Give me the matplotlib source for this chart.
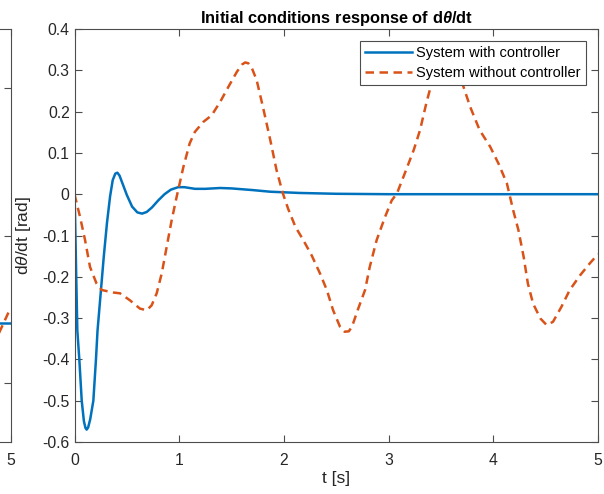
import matplotlib
matplotlib.use("Agg")
import matplotlib.pyplot as plt

plt.rcParams['font.family'] = ['Liberation Sans', 'DejaVu Sans']
plt.rcParams['mathtext.fontset'] = 'custom'
plt.rcParams['mathtext.rm'] = 'Liberation Sans'
plt.rcParams['mathtext.it'] = 'Liberation Sans:italic'
plt.rcParams['mathtext.bf'] = 'Liberation Sans:bold'
plt.rcParams['mathtext.bfit'] = 'Liberation Sans:italic:bold'

# angular rate, closed loop
t_ctrl = [0, 0.005, 0.015, 0.027, 0.046, 0.069, 0.09, 0.105, 0.116, 0.13,
          0.15, 0.18, 0.205, 0.22, 0.25, 0.28, 0.31, 0.34, 0.365, 0.39, 0.41,
          0.43, 0.46, 0.5, 0.55, 0.6, 0.645, 0.69, 0.74, 0.8, 0.86, 0.92,
          0.99, 1.05, 1.15, 1.25, 1.39, 1.5, 1.7, 1.87, 2.15, 2.5, 3.0, 3.5,
          4.0, 5.0]
w_ctrl = [0, -0.05, -0.18, -0.33, -0.4, -0.5, -0.55, -0.566, -0.57, -0.565,
          -0.545, -0.5, -0.4, -0.33, -0.24, -0.15, -0.07, -0.005, 0.034, 0.05,
          0.052, 0.045, 0.025, -0.002, -0.03, -0.044, -0.047, -0.043, -0.032,
          -0.015, 0.0, 0.011, 0.017, 0.017, 0.013, 0.013, 0.015, 0.014, 0.010,
          0.006, 0.003, 0.001, 0.0, 0.0, 0.0, 0.0]

# angular rate, open loop
t_open = [0, 0.053, 0.10, 0.148, 0.21, 0.26, 0.37, 0.435, 0.53, 0.625, 0.69,
          0.737, 0.785, 0.833, 0.88, 0.928, 0.976, 1.04, 1.10, 1.15, 1.23,
          1.31, 1.39, 1.47, 1.55, 1.60, 1.63, 1.66, 1.69, 1.74, 1.80, 1.87,
          1.93, 1.99, 2.04, 2.11, 2.185, 2.265, 2.345, 2.41, 2.47, 2.536,
          2.58, 2.62, 2.65, 2.71, 2.775, 2.82, 2.886, 2.966, 3.03, 3.08, 3.16,
          3.24, 3.30, 3.36, 3.41, 3.48, 3.55, 3.63, 3.71, 3.78, 3.87, 3.97,
          4.05, 4.13, 4.19, 4.24, 4.29, 4.33, 4.38, 4.45, 4.51, 4.57, 4.65,
          4.73, 4.83, 4.92, 5.0]
w_open = [0, -0.055, -0.11, -0.176, -0.216, -0.232, -0.238, -0.24, -0.257,
          -0.277, -0.281, -0.269, -0.24, -0.192, -0.128, -0.063, -0.006,
          0.066, 0.123, 0.151, 0.175, 0.191, 0.223, 0.26, 0.296, 0.314, 0.319,
          0.317, 0.308, 0.276, 0.211, 0.131, 0.058, 0.002, -0.035, -0.079,
          -0.111, -0.148, -0.192, -0.232, -0.281, -0.321, -0.333, -0.332,
          -0.321, -0.277, -0.232, -0.176, -0.111, -0.055, -0.015, 0.002,
          0.054, 0.107, 0.155, 0.22, 0.268, 0.31, 0.325, 0.305, 0.264, 0.211,
          0.155, 0.115, 0.074, 0.026, -0.039, -0.087, -0.152, -0.216, -0.265,
          -0.301, -0.317, -0.309, -0.273, -0.232, -0.196, -0.168, -0.145]

# tail of the neighbouring angle plot
t_prev = [4.8, 5.0]
th_prev_ctrl = [-0.297, -0.297]
th_prev_open = [-0.40, -0.246]

x_ticks = [0, 1, 2, 3, 4, 5]
y_ticks = [-0.6, -0.5, -0.4, -0.3, -0.2, -0.1, 0, 0.1, 0.2, 0.3, 0.4]

BLUE = '#0072BD'
ORANGE = '#D95319'
AXC = '#4d4d4d'
TXT = '#262626'
LW = 1.8
DASH = (0, (3.4, 2.2))

W, H = 604, 494
fig = plt.figure(figsize=(W / 100, H / 100), dpi=100)


def style_axes(ax):
    for s in ax.spines.values():
        s.set_color(AXC)
        s.set_linewidth(0.8)
    ax.tick_params(direction='in', length=5, width=0.8, color=AXC,
                   labelcolor=TXT, labelsize=11.3, top=True, right=True)
    ax.tick_params(axis='x', pad=8)


# neighbouring subplot (mostly off canvas)
ax0 = fig.add_axes([(10.5 - 523.5) / W, 52 / H, 523.5 / W, 413 / H])
style_axes(ax0)
ax0.plot(t_prev, th_prev_ctrl, color=BLUE, lw=LW)
ax0.plot(t_prev, th_prev_open, color=ORANGE, lw=LW, ls=DASH)
ax0.set_xlim(0, 5)
ax0.set_ylim(-0.7, 0.7)
ax0.set_xticks(x_ticks)
ax0.set_xticklabels(['' for _ in x_ticks[:-1]] + ['5'])
ax0.set_yticks([-0.5, 0, 0.5])
ax0.set_yticklabels([])

ax = fig.add_axes([74.5 / W, 52 / H, 523.5 / W, 413 / H])
style_axes(ax)
ax.plot(t_ctrl, w_ctrl, color=BLUE, lw=LW, label='System with controller')
ax.plot(t_open, w_open, color=ORANGE, lw=LW, ls=DASH,
        label='System without controller')
ax.set_xlim(0, 5)
ax.set_ylim(-0.6, 0.4)
ax.set_xticks(x_ticks)
ax.set_yticks(y_ticks)
ax.set_yticklabels([f'{v:g}' for v in y_ticks])
ax.set_xlabel('t [s]', fontsize=12.5, color=TXT, labelpad=2)
ax.set_ylabel(r'd$\mathit{\theta}$/dt [rad]', fontsize=12.5, color=TXT,
              labelpad=7)
ax.set_title(r'Initial conditions response of d$\mathbfit{\theta}$/dt',
             fontsize=11.8, fontweight='bold', color='black', pad=4)

leg = ax.legend(loc='upper right', fontsize=10.5, frameon=True,
                fancybox=False, framealpha=1, edgecolor=AXC,
                handlelength=3.2, handletextpad=0.3, borderaxespad=0.8,
                labelspacing=0.38, borderpad=0.38)
leg.get_frame().set_linewidth(0.8)
for txt in leg.get_texts():
    txt.set_color('black')

fig.savefig('out.png', dpi=100)
